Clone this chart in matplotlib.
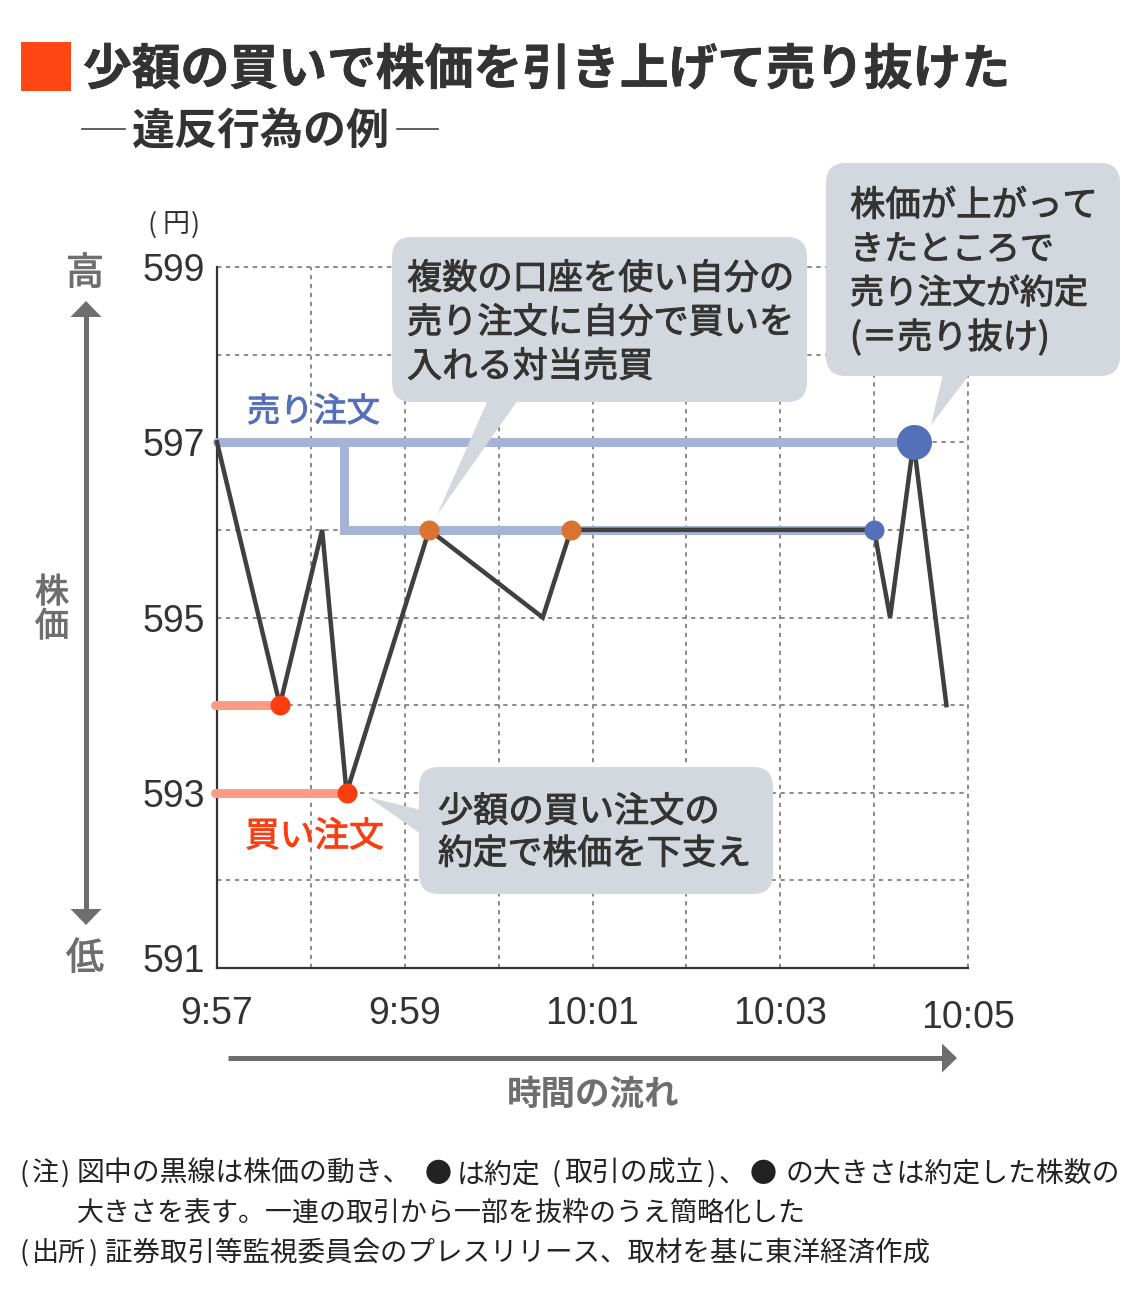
import matplotlib
matplotlib.use("Agg")
import matplotlib.pyplot as plt
import matplotlib.patheffects as pe
from matplotlib.patches import FancyBboxPatch, Polygon, Rectangle
from matplotlib.transforms import ScaledTranslation

# ---- data ----
price_minutes = [0, 0.67, 1.12, 1.38, 2.26, 3.47, 3.77, 7.0, 7.17, 7.42, 7.77]
price_values = [597, 594, 596, 593, 596, 595, 596, 596, 595, 597, 594]
sell_main_x = [0, 7.42]
sell_main_y = [597, 597]
sell_branch_x = [1.35, 1.35, 7.0]
sell_branch_y = [597, 596, 596]
buy_a_x = [-0.02, 0.67]
buy_a_y = [594, 594]
buy_b_x = [-0.02, 1.38]
buy_b_y = [593, 593]
red_x = [0.67, 1.38]
red_y = [594, 593]
orange_x = [2.26, 3.77]
orange_y = [596, 596]
blue_small_x = [7.0]
blue_small_y = [596]
blue_big_x = [7.42]
blue_big_y = [597]
x_ticks = [0, 1, 2, 3, 4, 5, 6, 7, 8]
x_labels = ["9:57", "", "9:59", "", "10:01", "", "10:03", "", "10:05"]
y_ticks = [591, 592, 593, 594, 595, 596, 597, 598, 599]
y_labels = ["591", "", "593", "", "595", "", "597", "", "599"]

W, H = 1140, 1309
JP = "Noto Sans CJK JP"
LAT = "Liberation Sans"
BUBBLE = "#d3d8df"
BLUE = "#5470b8"
LBLUE = "#a6b3d9"
RED = "#fa3e10"
SALMON = "#ff9b85"
ORANGE = "#d9732f"
DARK = "#404040"
GRAY = "#6e6e6e"
TXT = "#333333"
GRID = "#8a8a8a"
DASH = (0, (2.2, 2.4))

def px(s):
    return s * 72 / 100

fig = plt.figure(figsize=(W / 100, H / 100), dpi=100, facecolor="white")
ax = fig.add_axes([217 / W, (H - 968) / H, 751 / W, 701 / H])
ax.set_xlim(0, 8)
ax.set_ylim(591, 599)
for s in ("top", "right"):
    ax.spines[s].set_visible(False)
for s in ("left", "bottom"):
    ax.spines[s].set_color("#333333")
    ax.spines[s].set_linewidth(1.6)
    ax.spines[s].set_zorder(3)
ax.grid(True, color=GRID, lw=1.4, ls=DASH, zorder=1)
ax.set_axisbelow(True)
ax.plot([8, 8], [591, 599], color=GRID, lw=1.4, ls=DASH, clip_on=False, zorder=1)
ax.plot([0, 8], [599, 599], color=GRID, lw=1.4, ls=DASH, clip_on=False, zorder=1)
ax.set_xticks(x_ticks, x_labels, fontfamily=LAT, fontsize=27, color=TXT)
ax.set_yticks(y_ticks, y_labels, fontfamily=LAT, fontsize=27, color=TXT)
ax.tick_params(axis="both", length=0)
ax.tick_params(axis="x", pad=20.5)
ax.tick_params(axis="y", pad=8.5)

lab = ax.get_xticklabels()[-1]
lab.set_transform(lab.get_transform() + ScaledTranslation(0, -4 / 100, fig.dpi_scale_trans))
lab = ax.get_yticklabels()[0]
lab.set_transform(lab.get_transform() + ScaledTranslation(0, 10 / 100, fig.dpi_scale_trans))

kw = dict(clip_on=False, solid_capstyle="round", solid_joinstyle="miter")
ax.plot(buy_a_x, buy_a_y, color=SALMON, lw=px(9), zorder=4, **kw)
ax.plot(buy_b_x, buy_b_y, color=SALMON, lw=px(9), zorder=4, **kw)
ax.plot(sell_main_x, sell_main_y, color=LBLUE, lw=px(9), zorder=4, **kw)
ax.plot(sell_branch_x, sell_branch_y, color=LBLUE, lw=px(9), zorder=4, clip_on=False,
        solid_capstyle="butt", solid_joinstyle="miter")
ax.plot(price_minutes, price_values, color=DARK, lw=px(4.5), zorder=5, clip_on=False,
        solid_joinstyle="miter")
ax.plot(red_x, red_y, "o", color=RED, ms=px(20), mew=0, zorder=6)
ax.plot(orange_x, orange_y, "o", color=ORANGE, ms=px(20), mew=0, zorder=6)
ax.plot(blue_small_x, blue_small_y, "o", color=BLUE, ms=px(20), mew=0, zorder=6)
ax.plot(blue_big_x, blue_big_y, "o", color=BLUE, ms=px(35), mew=0, zorder=6)

# overlay in pixel coordinates for the annotations
ov = fig.add_axes([0, 0, 1, 1], facecolor="none")
ov.set_xlim(0, W)
ov.set_ylim(H, 0)
ov.axis("off")

def T(x, y, s, size, color=TXT, weight="regular", ha="left", stroke=0.0):
    t = ov.text(x, y, s, fontsize=px(size), color=color, fontweight=weight,
                ha=ha, va="center", fontfamily=JP)
    if stroke:
        t.set_path_effects([pe.withStroke(linewidth=stroke, foreground=color)])
    return t

def bubble(x0, y0, x1, y1, tail):
    ov.add_patch(FancyBboxPatch((x0 + 20, y0 + 20), x1 - x0 - 40, y1 - y0 - 40,
                                boxstyle="round,pad=20,rounding_size=20",
                                fc=BUBBLE, ec="none", zorder=2))
    ov.add_patch(Polygon(tail, closed=True, fc=BUBBLE, ec="none", zorder=2))

ov.add_patch(Rectangle((21, 42), 50, 49, fc="#ff4713", ec="none"))
T(83, 70, "少額の買いで株価を引き上げて売り抜けた", 48.8, color="#333333", weight="bold", stroke=0.5)
T(132, 132, "違反行為の例", 43, color="#333333", weight="bold")
ov.plot([82, 125], [129, 129], color="#444444", lw=1.2)
ov.plot([397, 438], [129, 129], color="#444444", lw=1.2)

S = 0.7
bubble(392, 237, 807, 402, [(488, 400), (518, 400), (437, 515)])
for i, s in enumerate(["複数の口座を使い自分の", "売り注文に自分で買いを", "入れる対当売買"]):
    T(407, 279 + i * 44, s, 35.2, stroke=S)
bubble(826, 163, 1120, 376, [(943, 374), (970, 374), (931, 425)])
T(850, 206, "株価が上がって", 35.4, stroke=S)
T(850, 250, "きたところで", 34, stroke=S)
T(850, 294, "売り注文が約定", 34, stroke=S)
T(850, 338, "(＝売り抜け)", 35.2, stroke=S)
bubble(419, 767, 773, 894, [(421, 810), (421, 834), (368, 797)])
T(438, 812, "少額の買い注文の", 35.2, stroke=S)
T(438, 854, "約定で株価を下支え", 34.8, stroke=S)

T(247, 412, "売り注文", 33.2, color=BLUE, stroke=S)
T(245, 837, "買い注文", 34.7, color=RED, stroke=S)

# the round brackets of the original are set wider than the font's own
T(148, 225, "(", 27)
T(163, 225, "円", 27)
T(191, 225, ")", 27)
T(85, 274, "高", 38, color=GRAY, ha="center", stroke=S)
T(85, 959, "低", 38, color=GRAY, ha="center", stroke=S)
T(52, 593, "株", 34, color=GRAY, ha="center", stroke=S)
T(52, 627, "価", 34, color=GRAY, ha="center", stroke=S)
T(593, 1094, "時間の流れ", 34.5, color=GRAY, ha="center", weight="bold")

# double-headed vertical arrow and time arrow
ov.plot([86, 86], [310, 915], color=GRAY, lw=px(5), solid_capstyle="butt")
ov.add_patch(Polygon([(86, 301), (70.5, 317), (101.5, 317)], fc=GRAY, ec="none"))
ov.add_patch(Polygon([(86, 925), (70.5, 909), (101.5, 909)], fc=GRAY, ec="none"))
ov.plot([228, 945], [1058, 1058], color=GRAY, lw=px(5), solid_capstyle="butt")
ov.add_patch(Polygon([(957, 1058), (942, 1043.5), (942, 1072.5)], fc=GRAY, ec="none"))

NC = "#222222"
N1 = 1174
for x, s in [(20, "("), (32, "注"), (61, ")"), (77, "図中の黒線は株価の動き、"),
             (425, "●"), (457, "は約定"), (552, "("), (564, "取引の成立"), (707, ")"),
             (719, "、"), (750, "●"), (786, "の大きさは約定した株数の")]:
    T(x, N1, s, 27.9 if len(s) > 1 else 27, color=NC)
T(77, 1213, "大きさを表す。一連の取引から一部を抜粋のうえ簡略化した", 27, color=NC)
N3 = 1253
for x, s in [(20, "("), (32, "出所"), (89, ")"), (105, "証券取引等監視委員会のプレスリリース、取材を基に東洋経済作成")]:
    T(x, N3, s, 27.5 if len(s) > 2 else 27, color=NC)

fig.savefig("out.png", dpi=100)
